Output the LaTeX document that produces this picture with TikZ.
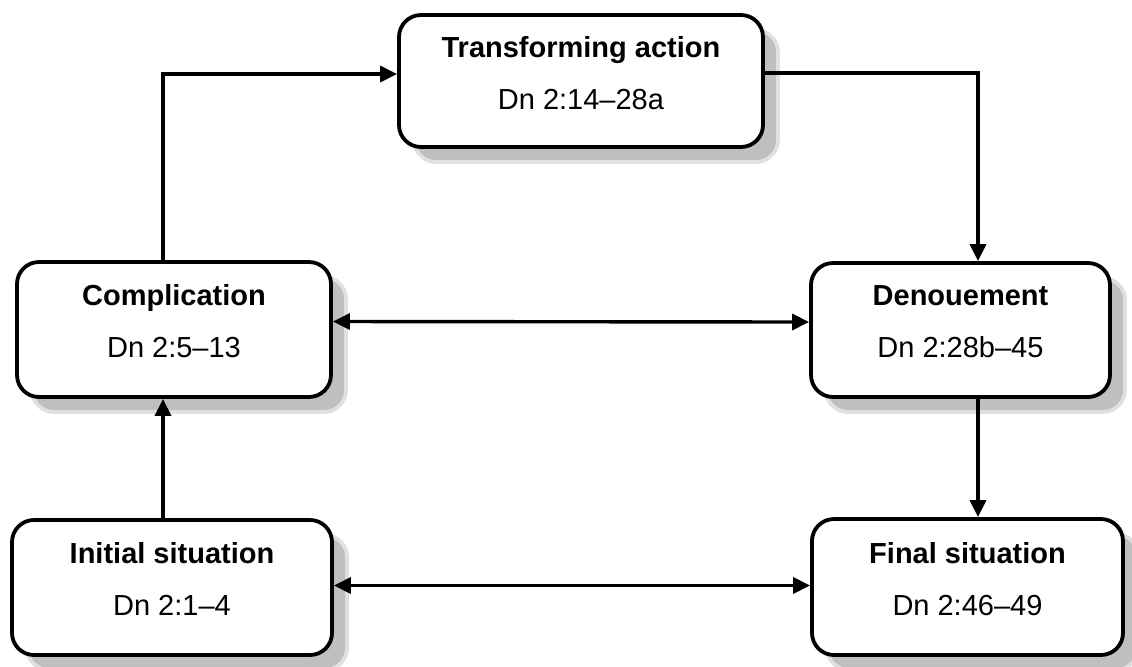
\documentclass[tikz,border=0pt]{standalone}
\usepackage{fontspec}
\setmainfont{Liberation Sans}
\usetikzlibrary{arrows.meta,shadows}

\newcommand{\stagetext}[2]{\textbf{#1}\\#2\rule[-8.5pt]{0pt}{8.5pt}}

\begin{document}
\begin{tikzpicture}[x=0.5pt,y=-0.5pt,
   stage/.style={draw,line width=1.9pt,rounded corners=11pt,fill=white,align=center,
      font=\fontsize{14.5}{26}\selectfont,
      drop shadow={shadow xshift=7.5pt,shadow yshift=-7.5pt,fill=black!25,draw=black!12,opacity=1}},
   flow/.style={line width=1.7pt,-{Triangle[length=8.5pt,width=8pt]}},
   both/.style={line width=1.7pt,{Triangle[length=8.5pt,width=8pt]}-{Triangle[length=8.5pt,width=8pt]}}]
\useasboundingbox (0,0) rectangle (1132,666);
% the five stages
\node[stage,minimum width=182pt,minimum height=66pt] (trans) at (581,81) {\stagetext{Transforming action}{Dn 2:14--28a}};
\node[stage,minimum width=157pt,minimum height=67.5pt] (comp) at (174,329.5) {\stagetext{Complication}{Dn 2:5--13}};
\node[stage,minimum width=149.5pt,minimum height=67pt] (denou) at (960.5,330) {\stagetext{Denouement}{Dn 2:28b--45}};
\node[stage,minimum width=160pt,minimum height=67.5pt] (init) at (172,587.5) {\stagetext{Initial situation}{Dn 2:1--4}};
\node[stage,minimum width=155.5pt,minimum height=68pt] (final) at (967.5,587) {\stagetext{Final situation}{Dn 2:46--49}};
% connectors
\draw[flow] ([xshift=-5.5pt]comp.north) |- ([yshift=3.5pt]trans.west);
\draw[flow] ([yshift=4pt]trans.east) -| ([xshift=8.75pt]denou.north);
\draw[flow] ([xshift=8.75pt]denou.south) -- ([xshift=8.75pt]denou.south |- final.north);
\draw[flow] ([xshift=-4.5pt]init.north) -- ([xshift=-4.5pt]init.north |- comp.south);
\draw[both] ([yshift=4pt]comp.east) -- ([yshift=4pt]denou.west);
\draw[both] ([yshift=1pt]init.east) -- ([yshift=1pt]init.east -| final.west);
\end{tikzpicture}
\end{document}
